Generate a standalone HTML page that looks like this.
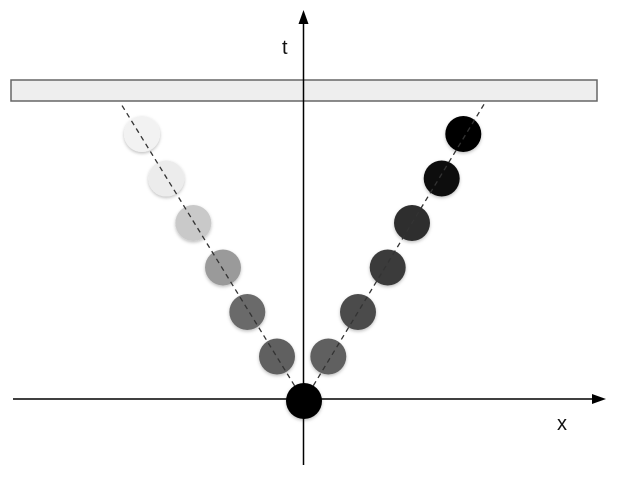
<!DOCTYPE html>
<html><head><meta charset="utf-8"><style>
html,body{margin:0;padding:0;background:#fff;}
svg{display:block;}
text{font-family:"Liberation Sans",sans-serif;}
</style></head><body>
<svg id="c" width="618" height="478" viewBox="0 0 618 478">
<defs>
<filter id="sh" x="-30%" y="-30%" width="160%" height="160%"><feDropShadow dx="0" dy="1.5" stdDeviation="1.5" flood-color="#000" flood-opacity="0.25"/></filter>
</defs>
<rect x="11" y="80" width="586" height="21" fill="#eeeeee" stroke="#666" stroke-width="1.5"/>
<line x1="13" y1="399" x2="596" y2="399" stroke="#000" stroke-width="1.5"/>
<polygon points="606,399 592,394 592,404" fill="#000"/>
<line x1="303.5" y1="465" x2="303.5" y2="20" stroke="#000" stroke-width="1.5"/>
<polygon points="303.5,10 298.5,24 308.5,24" fill="#000"/>
<text x="282" y="54" font-size="20" fill="#111">t</text>
<text x="557" y="430" font-size="20" fill="#111">x</text>
<g id="marks"></g>
</svg>
<script>
// data: positions in plot units (x left/right, t time)
const leftX = [-6, -5.1, -4.1, -3.0, -2.1, -1.0];
const leftT = [6, 5, 4, 3, 2, 1];
const leftShade = ["#f2f2f2", "#ececec", "#c9c9c9", "#9a9a9a", "#6b6b6b", "#606060"];
const rightX = [5.9, 5.1, 4.0, 3.1, 2.0, 0.9];
const rightT = [6, 5, 4, 3, 2, 1];
const rightShade = ["#000000", "#0d0d0d", "#2e2e2e", "#3b3b3b", "#4b4b4b", "#606060"];
const originX = [0];
const originT = [0];

const X0 = 304, T0 = 401, UX = 27, UT = 44.5;
const sx = v => X0 + v * UX;
const st = v => T0 - v * UT;
const NS = "http://www.w3.org/2000/svg";
const g = document.getElementById("marks");

function line(x1, t1, x2, t2, name) {
  const l = document.createElementNS(NS, "line");
  l.setAttribute("x1", sx(x1)); l.setAttribute("y1", st(t1));
  l.setAttribute("x2", sx(x2)); l.setAttribute("y2", st(t2));
  l.setAttribute("stroke", "#333"); l.setAttribute("stroke-width", "1.3");
  l.setAttribute("stroke-dasharray", "5,4");
  
  
  g.appendChild(l);
}
function dot(x, t, fill, name) {
  const c = document.createElementNS(NS, "circle");
  c.setAttribute("cx", sx(x)); c.setAttribute("cy", st(t));
  c.setAttribute("r", "18"); c.setAttribute("fill", fill);
  c.setAttribute("filter", "url(#sh)");
  
  
  g.appendChild(c);
}
for (let i = 0; i < leftX.length; i++) dot(leftX[i], leftT[i], leftShade[i], "left-particle-" + (i + 1));
for (let i = 0; i < rightX.length; i++) dot(rightX[i], rightT[i], rightShade[i], "right-particle-" + (i + 1));
line(originX[0], originT[0], -6.8, 6.7, "left-trajectory");
line(originX[0], originT[0], 6.7, 6.7, "right-trajectory");
dot(originX[0], originT[0], "#000", "origin-particle");
</script>
</body></html>
